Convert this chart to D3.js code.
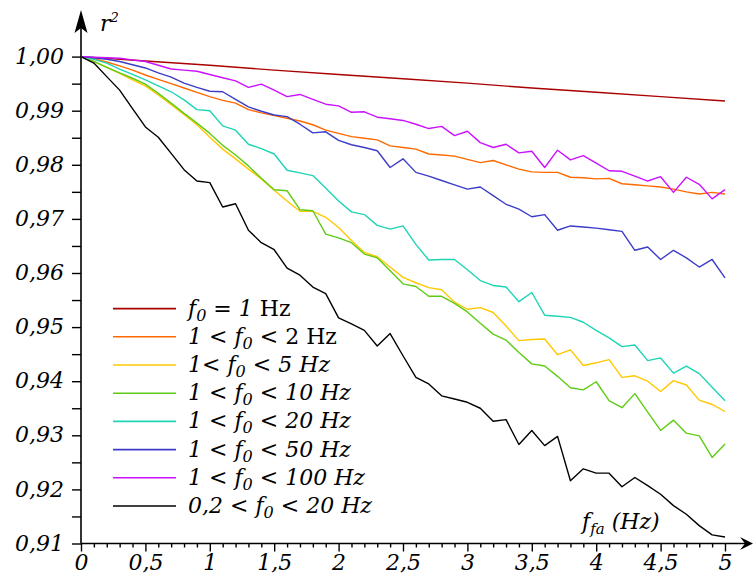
<!DOCTYPE html>
<html><head><meta charset="utf-8">
<script src="https://cdn.jsdelivr.net/npm/d3@7"></script>
<style>
body{margin:0;background:#fff}
svg{display:block}
text{font-family:'DejaVu Serif',serif;font-style:italic;fill:#000}
</style>
</head><body>
<svg id="chart" width="753" height="574"></svg>
<script>
// ---------- data ----------
const xSteps = [0,0.1,0.2,0.3,0.4,0.5,0.6,0.7,0.8,0.9,1,1.1,1.2,1.3,1.4,1.5,1.6,1.7,1.8,1.9,2,2.1,2.2,2.3,2.4,2.5,2.6,2.7,2.8,2.9,3,3.1,3.2,3.3,3.4,3.5,3.6,3.7,3.8,3.9,4,4.1,4.2,4.3,4.4,4.5,4.6,4.7,4.8,4.9,5];
const xHalf = [0,0.5,1,1.5,2,2.5,3,3.5,4,4.5,5];

const f0Eq1 = [1.0000,0.9992,0.9984,0.9975,0.9967,0.9959,0.9951,0.9942,0.9934,0.9926,0.9918];
const f0To2 = [1.0000,0.9996,0.9990,0.9983,0.9975,0.9966,0.9958,0.9950,0.9942,0.9934,0.9926,0.9919,0.9914,0.9902,0.9896,0.9891,0.9886,0.9881,0.9874,0.9864,0.9858,0.9852,0.9849,0.9846,0.9835,0.9832,0.9829,0.9820,0.9818,0.9816,0.9810,0.9804,0.9808,0.9800,0.9792,0.9787,0.9786,0.9786,0.9777,0.9776,0.9774,0.9775,0.9765,0.9763,0.9761,0.9759,0.9755,0.9750,0.9746,0.9749,0.9746];
const f0To5 = [1.0000,0.9991,0.9980,0.9969,0.9957,0.9946,0.9929,0.9911,0.9893,0.9874,0.9851,0.9829,0.9811,0.9792,0.9774,0.9753,0.9733,0.9714,0.9714,0.9703,0.9684,0.9660,0.9638,0.9630,0.9611,0.9592,0.9582,0.9573,0.9569,0.9546,0.9533,0.9536,0.9527,0.9502,0.9475,0.9477,0.9478,0.9449,0.9458,0.9429,0.9434,0.9440,0.9407,0.9410,0.9400,0.9381,0.9401,0.9393,0.9365,0.9357,0.9344];
const f0To10 = [1.0000,0.9991,0.9980,0.9970,0.9960,0.9949,0.9932,0.9914,0.9895,0.9877,0.9858,0.9836,0.9818,0.9798,0.9775,0.9754,0.9752,0.9717,0.9715,0.9672,0.9665,0.9656,0.9635,0.9628,0.9604,0.9580,0.9575,0.9557,0.9557,0.9544,0.9528,0.9507,0.9487,0.9476,0.9453,0.9432,0.9428,0.9409,0.9388,0.9384,0.9399,0.9364,0.9351,0.9377,0.9343,0.9309,0.9328,0.9304,0.9299,0.9259,0.9284];
const f0To20 = [1.0000,0.9995,0.9988,0.9977,0.9967,0.9957,0.9946,0.9935,0.9920,0.9902,0.9900,0.9872,0.9864,0.9838,0.9830,0.9820,0.9790,0.9785,0.9780,0.9757,0.9733,0.9713,0.9708,0.9688,0.9681,0.9687,0.9653,0.9624,0.9625,0.9625,0.9606,0.9586,0.9577,0.9574,0.9547,0.9564,0.9522,0.9520,0.9518,0.9509,0.9494,0.9480,0.9464,0.9467,0.9438,0.9443,0.9415,0.9428,0.9414,0.9389,0.9364];
const f0To50 = [1.0000,0.9998,0.9995,0.9991,0.9985,0.9979,0.9970,0.9962,0.9951,0.9943,0.9936,0.9935,0.9921,0.9907,0.9899,0.9892,0.9889,0.9875,0.9859,0.9861,0.9845,0.9837,0.9832,0.9826,0.9795,0.9811,0.9786,0.9779,0.9771,0.9763,0.9755,0.9759,0.9743,0.9727,0.9718,0.9704,0.9708,0.9679,0.9687,0.9685,0.9683,0.9680,0.9677,0.9642,0.9648,0.9625,0.9642,0.9628,0.9611,0.9625,0.9591];
const f0To100 = [1.0000,0.9999,0.9998,0.9997,0.9994,0.9991,0.9984,0.9977,0.9975,0.9973,0.9967,0.9961,0.9955,0.9943,0.9949,0.9938,0.9926,0.9930,0.9921,0.9912,0.9909,0.9897,0.9898,0.9888,0.9885,0.9882,0.9875,0.9867,0.9871,0.9854,0.9862,0.9841,0.9832,0.9838,0.9822,0.9825,0.9795,0.9827,0.9809,0.9817,0.9803,0.9789,0.9788,0.9779,0.9770,0.9778,0.9749,0.9777,0.9764,0.9737,0.9754];
const f0From02To20 = [1.0000,0.9988,0.9963,0.9938,0.9904,0.9870,0.9851,0.9821,0.9791,0.9770,0.9767,0.9722,0.9728,0.9679,0.9656,0.9643,0.9609,0.9596,0.9574,0.9562,0.9517,0.9506,0.9494,0.9465,0.9488,0.9447,0.9407,0.9395,0.9373,0.9367,0.9361,0.9350,0.9326,0.9329,0.9283,0.9309,0.9281,0.9298,0.9216,0.9238,0.9230,0.9230,0.9205,0.9222,0.9207,0.9191,0.9170,0.9154,0.9133,0.9116,0.9112];

const seriesColors = ["#aa0000","#ff6a00","#ffc800","#5fcc14","#1ed4b4","#3c3cc8","#cc11ff","#000000"];

const yTickValues = [0.91,0.92,0.93,0.94,0.95,0.96,0.97,0.98,0.99,1.00];
const yTickLabels = ["0,91","0,92","0,93","0,94","0,95","0,96","0,97","0,98","0,99","1,00"];
const yMinorValues = [0.915,0.925,0.935,0.945,0.955,0.965,0.975,0.985,0.995];
const xTickValues = [0,0.5,1,1.5,2,2.5,3,3.5,4,4.5,5];
const xTickLabels = ["0","0,5","1","1,5","2","2,5","3","3,5","4","4,5","5"];
const xMinorValues = xSteps.filter(v => Math.round(v*10) % 5 !== 0);

// legend labels: [text, style] where style: "i" italic, "u" upright, "s" subscript
const legendLabels = [
  [["f","i"],["0","s"],[" = 1 ","i"],["Hz","u"]],
  [["1 < ","i"],["f","i"],["0","s"],[" < 2 Hz","u"]],
  [["1< ","i"],["f","i"],["0","s"],[" < 5 Hz","i"]],
  [["1 < ","i"],["f","i"],["0","s"],[" < 10 Hz","i"]],
  [["1 < ","i"],["f","i"],["0","s"],[" < 20 Hz","i"]],
  [["1 < ","i"],["f","i"],["0","s"],[" < 50 Hz","i"]],
  [["1 < ","i"],["f","i"],["0","s"],[" < 100 Hz","i"]],
  [["0,2 < ","i"],["f","i"],["0","s"],[" < 20 Hz","i"]]
];

const series = [
  {x: xHalf, y: f0Eq1},
  {x: xSteps, y: f0To2},
  {x: xSteps, y: f0To5},
  {x: xSteps, y: f0To10},
  {x: xSteps, y: f0To20},
  {x: xSteps, y: f0To50},
  {x: xSteps, y: f0To100},
  {x: xSteps, y: f0From02To20}
];

// ---------- drawing ----------
const svg = d3.select("#chart");
const xS = d3.scaleLinear().domain([0,5]).range([81,725]);
const yS = d3.scaleLinear().domain([0.91,1.00]).range([543.5,56.6]);
const FS = 22;

// y axis ticks
const gy = svg.append("g").attr("transform",`translate(${xS(0)},0)`);
gy.call(d3.axisLeft(yS).tickValues(yTickValues).tickSize(9).tickPadding(8)
  .tickFormat((d,i)=>yTickLabels[i]));
gy.append("g").call(d3.axisLeft(yS).tickValues(yMinorValues).tickSize(9).tickFormat(""));
gy.selectAll(".domain").remove();
gy.selectAll("line").attr("stroke","#000").attr("stroke-width",1.4);
gy.selectAll("text").attr("font-size",FS).attr("font-family","'DejaVu Serif',serif")
  .attr("font-style","italic").attr("dy","0.3em");

// x axis ticks
const gx = svg.append("g").attr("transform",`translate(0,${yS(0.91)})`);
gx.call(d3.axisBottom(xS).tickValues(xTickValues).tickSize(8).tickPadding(0)
  .tickFormat((d,i)=>xTickLabels[i]));
gx.append("g").call(d3.axisBottom(xS).tickValues(xMinorValues).tickSize(4).tickFormat(""));
gx.selectAll(".domain").remove();
gx.selectAll("line").attr("stroke","#000").attr("stroke-width",1.4);
gx.selectAll("text").attr("font-size",FS).attr("font-family","'DejaVu Serif',serif")
  .attr("font-style","italic").attr("y",26).attr("dy","0");

// axis lines with arrows
const ax0 = xS(0), ay0 = yS(0.91);
svg.append("line").attr("x1",ax0).attr("y1",ay0).attr("x2",ax0).attr("y2",26)
  .attr("stroke","#000").attr("stroke-width",1.6);
svg.append("path").attr("d",`M${ax0},10 L${ax0+6.5},33 L${ax0},28 L${ax0-6.5},33 Z`).attr("fill","#000");
svg.append("line").attr("x1",ax0).attr("y1",ay0).attr("x2",745).attr("y2",ay0)
  .attr("stroke","#000").attr("stroke-width",1.6);
svg.append("path").attr("d",`M753,${ay0} L740,${ay0-6.5} L745,${ay0} L740,${ay0+6.5} Z`).attr("fill","#000");

// series lines
const line = d3.line();
series.forEach((s,i)=>{
  const pts = s.x.map((xv,j)=>[xS(xv), yS(s.y[j])]);
  svg.append("path").attr("d",line(pts)).attr("fill","none")
    .attr("stroke",seriesColors[i]).attr("stroke-width",1.4).attr("stroke-linejoin","round");
});

// legend
const legY0 = 308.6, legDY = 28.2;
legendLabels.forEach((parts,i)=>{
  const yy = legY0 + i*legDY;
  svg.append("line").attr("x1",113).attr("x2",176).attr("y1",yy).attr("y2",yy)
    .attr("stroke",seriesColors[i]).attr("stroke-width",1.6);
  const t = svg.append("text").attr("x",188).attr("y",yy+7).attr("font-size",FS);
  let shifted = false;
  parts.forEach(p=>{
    const ts = t.append("tspan").text(p[0]);
    if (p[1]==="s") { ts.attr("font-size",16).attr("dy",5); shifted = true; }
    else {
      if (shifted) { ts.attr("dy",-5); shifted = false; }
      ts.attr("font-style", p[1]==="u" ? "normal" : "italic");
    }
  });
});

// axis titles
const rt = svg.append("text").attr("x",100).attr("y",31).attr("font-size",FS);
rt.append("tspan").text("r");
rt.append("tspan").text("2").attr("font-size",13).attr("dy",-9);

const ft = svg.append("text").attr("x",582).attr("y",529).attr("font-size",FS);
ft.append("tspan").text("f");
ft.append("tspan").text("fa").attr("font-size",15).attr("dy",5);
ft.append("tspan").text(" (Hz)").attr("dy",-5);
</script>
</body></html>
